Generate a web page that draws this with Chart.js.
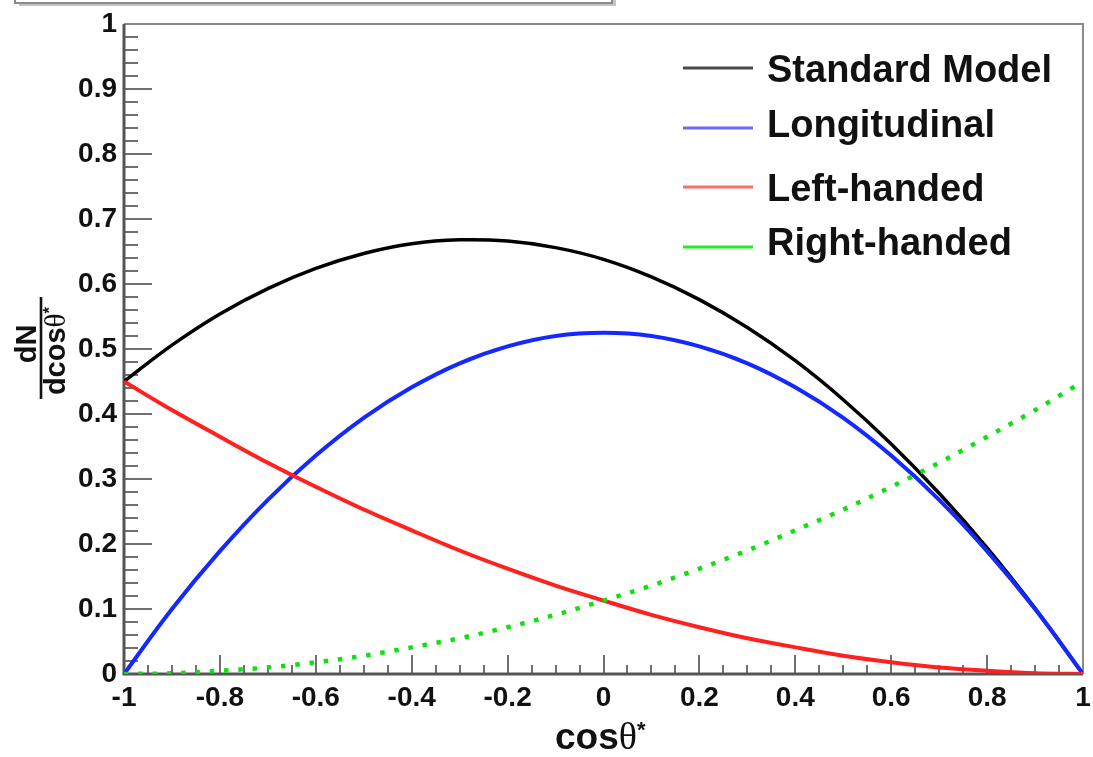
<!DOCTYPE html>
<html>
<head>
<meta charset="utf-8">
<script src="https://cdn.jsdelivr.net/npm/chart.js@4.4.1/dist/chart.umd.min.js"></script>
<style>
  html, body { margin: 0; padding: 0; background: #ffffff; }
  canvas { display: block; }
</style>
</head>
<body>
<canvas id="c" width="1093" height="757"></canvas>
<script>
// W helicity angular distributions, dN/dcos(theta*)
const cosTheta = [-1, -0.9, -0.8, -0.7, -0.6, -0.5, -0.4, -0.3, -0.2, -0.1, 0,
                  0.1, 0.2, 0.3, 0.4, 0.5, 0.6, 0.7, 0.8, 0.9, 1];
const standardModel = [0.450, 0.506, 0.554, 0.593, 0.624, 0.647, 0.662, 0.668, 0.666, 0.656, 0.638,
                       0.611, 0.576, 0.533, 0.482, 0.422, 0.354, 0.278, 0.194, 0.101, 0];
const longitudinal = [0, 0.100, 0.189, 0.268, 0.336, 0.394, 0.441, 0.478, 0.504, 0.520, 0.525,
                      0.520, 0.504, 0.478, 0.441, 0.394, 0.336, 0.268, 0.189, 0.100, 0];
const leftHanded = [0.450, 0.406, 0.365, 0.325, 0.288, 0.253, 0.221, 0.190, 0.162, 0.136, 0.113,
                    0.091, 0.072, 0.055, 0.041, 0.028, 0.018, 0.010, 0.005, 0.001, 0];
const rightHanded = [0, 0.001, 0.005, 0.010, 0.018, 0.028, 0.041, 0.055, 0.072, 0.091, 0.113,
                     0.136, 0.162, 0.190, 0.221, 0.253, 0.288, 0.325, 0.365, 0.406, 0.450];

const seriesNames = ['Standard Model', 'Longitudinal', 'Left-handed', 'Right-handed'];

const xTickValues = [-1, -0.8, -0.6, -0.4, -0.2, 0, 0.2, 0.4, 0.6, 0.8, 1];
const xTickLabels = ['-1', '-0.8', '-0.6', '-0.4', '-0.2', '0', '0.2', '0.4', '0.6', '0.8', '1'];
const yTickValues = [0, 0.1, 0.2, 0.3, 0.4, 0.5, 0.6, 0.7, 0.8, 0.9, 1];
const yTickLabels = ['0', '0.1', '0.2', '0.3', '0.4', '0.5', '0.6', '0.7', '0.8', '0.9', '1'];

const SANS = '"Liberation Sans", Arial, Helvetica, sans-serif';
const SERIF = '"Liberation Serif", "Times New Roman", serif';

const toPoints = ys => cosTheta.map((x, i) => ({ x, y: ys[i] }));

// Frame with inward ticks (minor + major), drawn under the curves
const framePlugin = {
  id: 'frame',
  beforeDatasetsDraw(chart) {
    const { ctx, chartArea: a, scales: { x, y } } = chart;
    ctx.save();
    ctx.lineCap = 'butt';
    ctx.strokeStyle = '#707070';
    ctx.lineWidth = 2;
    ctx.beginPath();
    for (let i = 0; i <= 50; i++) {
      const py = Math.round(y.getPixelForValue(i * 0.02));
      const len = (i % 5 === 0) ? 28 : 14;
      ctx.moveTo(a.left, py);
      ctx.lineTo(a.left + len, py);
    }
    for (let i = 0; i <= 40; i++) {
      const px = Math.round(x.getPixelForValue(-1 + i * 0.05));
      const len = (i % 4 === 0) ? 19 : 9;
      ctx.moveTo(px, a.bottom);
      ctx.lineTo(px, a.bottom - len);
    }
    ctx.stroke();

    // top and right frame edges
    ctx.strokeStyle = '#8a8a8a';
    ctx.lineWidth = 2;
    ctx.beginPath();
    ctx.moveTo(a.left, a.top);
    ctx.lineTo(a.right, a.top);
    ctx.lineTo(a.right, a.bottom);
    ctx.stroke();

    // axis lines
    ctx.strokeStyle = '#555555';
    ctx.lineWidth = 3;
    ctx.beginPath();
    ctx.moveTo(a.left, a.top);
    ctx.lineTo(a.left, a.bottom);
    ctx.lineTo(a.right, a.bottom);
    ctx.stroke();
    ctx.restore();
  }
};

// Legend block, axis titles and the header pave
const decorPlugin = {
  id: 'decor',
  afterDraw(chart) {
    const { ctx } = chart;
    ctx.save();

    // header pave (mostly above the canvas edge)
    ctx.fillStyle = '#c4c4c4';
    ctx.fillRect(19, 3, 597, 3);
    ctx.fillRect(612, -10, 4, 16);
    ctx.strokeStyle = '#8a8a8a';
    ctx.lineWidth = 2;
    ctx.strokeRect(15, -10, 597, 13);

    // legend
    const colors = ['#4a4a4a', '#6a6aff', '#ff6a6a', '#22ee22'];
    const lineY = [68, 128, 187, 247];
    const textY = [82, 137, 201, 255];
    ctx.lineWidth = 3;
    ctx.font = 'bold 38px ' + SANS;
    ctx.textAlign = 'left';
    ctx.textBaseline = 'alphabetic';
    seriesNames.forEach((name, i) => {
      ctx.strokeStyle = colors[i];
      ctx.beginPath();
      ctx.moveTo(683, lineY[i]);
      ctx.lineTo(753, lineY[i]);
      ctx.stroke();
      ctx.fillStyle = '#111111';
      ctx.fillText(name, 767, textY[i]);
    });

    const drawRich = (parts, x0, base) => {
      let xx = x0;
      parts.forEach(p => {
        ctx.font = p.font;
        ctx.fillText(p.t, xx, base + (p.dy || 0));
        xx += ctx.measureText(p.t).width;
      });
    };
    const measureRich = parts => parts.reduce((w, p) => { ctx.font = p.font; return w + ctx.measureText(p.t).width; }, 0);

    // x-axis title: cos theta*
    ctx.fillStyle = '#111111';
    const xTitle = [
      { t: 'cos', font: 'bold 37px ' + SANS },
      { t: 'θ', font: '38px ' + SERIF },
      { t: '*', font: 'bold 22px ' + SANS, dy: -12 }
    ];
    drawRich(xTitle, 555, 749);

    // y-axis title: dN / dcos theta*  (rotated fraction)
    ctx.translate(41, 348);
    ctx.rotate(-Math.PI / 2);
    ctx.textAlign = 'left';
    const num = [{ t: 'dN', font: 'bold 29px ' + SANS }];
    const den = [
      { t: 'dcos', font: 'bold 29px ' + SANS },
      { t: 'θ', font: '29px ' + SERIF },
      { t: '*', font: 'bold 17px ' + SANS, dy: -10 }
    ];
    drawRich(num, 4 - measureRich(num) / 2, -5);
    drawRich(den, -3 - measureRich(den) / 2, 24);
    ctx.fillRect(-51, -1.3, 102, 2.6);

    ctx.restore();
  }
};

new Chart(document.getElementById('c').getContext('2d'), {
  type: 'line',
  data: {
    datasets: [
      { label: seriesNames[0], data: toPoints(standardModel), borderColor: '#000000', borderWidth: 3.5,
        cubicInterpolationMode: 'default', tension: 0.4, order: 4 },
      { label: seriesNames[1], data: toPoints(longitudinal), borderColor: '#1428ff', borderWidth: 4,
        cubicInterpolationMode: 'default', tension: 0.4, order: 3 },
      { label: seriesNames[2], data: toPoints(leftHanded), borderColor: '#ff2020', borderWidth: 4, order: 2 },
      { label: seriesNames[3], data: toPoints(rightHanded), borderColor: '#10e010', borderWidth: 4.5,
        borderDash: [4.5, 9.8], order: 1 }
    ]
  },
  options: {
    responsive: false,
    animation: false,
    devicePixelRatio: 1,
    layout: { padding: { top: 24, right: 10, left: 0, bottom: 0 } },
    plugins: { legend: { display: false }, tooltip: { enabled: false }, title: { display: false } },
    elements: {
      point: { radius: 0, hoverRadius: 0 },
      line: { cubicInterpolationMode: 'monotone', fill: false, borderCapStyle: 'butt' }
    },
    scales: {
      x: {
        type: 'linear', min: -1, max: 1,
        grid: { display: false, drawTicks: false },
        border: { display: false },
        afterBuildTicks: s => { s.ticks = xTickValues.map(v => ({ value: v })); },
        afterFit: s => { s.height = 83; s.paddingLeft = 0; s.paddingRight = 0; },
        ticks: {
          autoSkip: false, maxRotation: 0, minRotation: 0, padding: 7, color: '#111111',
          font: { family: SANS, size: 28, weight: 'bold' },
          callback: (v, i) => xTickLabels[i]
        }
      },
      y: {
        type: 'linear', min: 0, max: 1,
        grid: { display: false, drawTicks: false },
        border: { display: false },
        afterBuildTicks: s => { s.ticks = yTickValues.map(v => ({ value: v })); },
        afterFit: s => { s.width = 124; s.paddingTop = 0; s.paddingBottom = 0; },
        ticks: {
          autoSkip: false, padding: 7, color: '#111111',
          font: { family: SANS, size: 28, weight: 'bold' },
          callback: (v, i) => yTickLabels[i]
        }
      }
    }
  },
  plugins: [framePlugin, decorPlugin]
});
</script>
</body>
</html>
